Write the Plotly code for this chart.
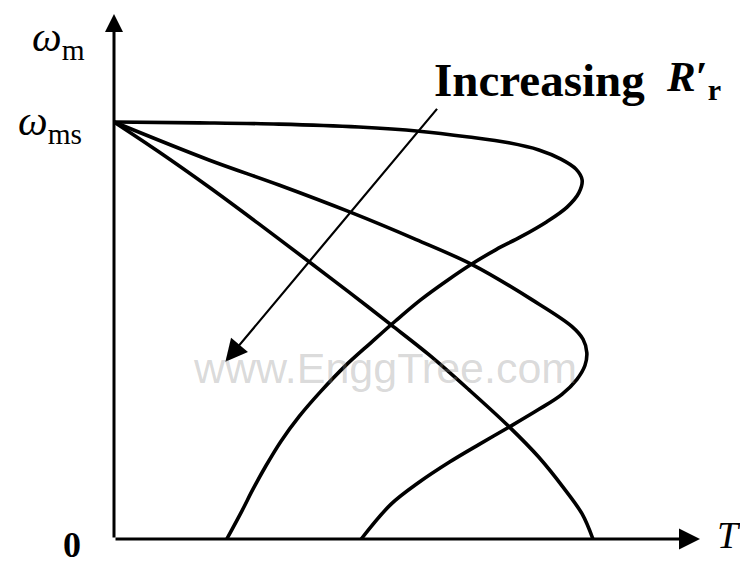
import plotly.graph_objects as go

# Torque (normalised to the breakdown torque) vs. rotor speed
# (normalised to synchronous speed) for three values of rotor resistance.
low_r_torque = [0.0, 0.181, 0.351, 0.521, 0.649, 0.755, 0.840, 0.904, 0.951, 0.983,
                0.996, 0.989, 0.964, 0.921, 0.866, 0.813, 0.762, 0.709, 0.653, 0.600,
                0.547, 0.491, 0.440, 0.394, 0.355, 0.323, 0.296, 0.272, 0.240]
low_r_speed = [1.0, 0.998, 0.995, 0.988, 0.978, 0.964, 0.950, 0.933, 0.911, 0.887,
               0.861, 0.830, 0.796, 0.761, 0.725, 0.694, 0.660, 0.620, 0.574, 0.524,
               0.471, 0.414, 0.354, 0.294, 0.234, 0.175, 0.120, 0.067, 0.0]

mid_r_torque = [0.0, 0.202, 0.351, 0.500, 0.643, 0.762, 0.889, 0.974, 0.998, 1.006,
                1.002, 0.985, 0.953, 0.904, 0.840, 0.777, 0.713, 0.649, 0.589, 0.526]
mid_r_speed = [1.0, 0.909, 0.849, 0.785, 0.718, 0.658, 0.574, 0.510, 0.479, 0.447,
               0.416, 0.383, 0.347, 0.311, 0.268, 0.227, 0.184, 0.136, 0.083, 0.0]

high_r_torque = [0.0, 0.096, 0.202, 0.309, 0.415, 0.500, 0.589, 0.670, 0.755, 0.840,
                 0.904, 0.957, 0.996, 1.019]
high_r_speed = [1.0, 0.928, 0.844, 0.755, 0.665, 0.592, 0.514, 0.442, 0.358, 0.270,
                0.196, 0.122, 0.060, 0.0]

W, H = 740, 566
ORIGIN_X, ORIGIN_Y = 114, 539      # pixel position of the axes origin
PX_PER_T, PX_PER_W = 470, 417      # pixels per normalised unit

x_range = [-ORIGIN_X / PX_PER_T, (W - ORIGIN_X) / PX_PER_T]
y_range = [-(H - ORIGIN_Y) / PX_PER_W, ORIGIN_Y / PX_PER_W]

SERIF = "Liberation Serif, Times New Roman, serif"

fig = go.Figure()
for t, w in [(low_r_torque, low_r_speed), (mid_r_torque, mid_r_speed),
             (high_r_torque, high_r_speed)]:
    fig.add_trace(go.Scatter(
        x=t, y=w, mode="lines",
        line=dict(color="black", width=3.6, shape="spline", smoothing=1.0),
        hoverinfo="skip", showlegend=False,
    ))

# Axes with arrowheads
t_axis_end = (700 - ORIGIN_X) / PX_PER_T
w_axis_end = (539 - 14) / PX_PER_W
fig.add_annotation(x=t_axis_end, y=0, ax=0, ay=0, xref="x", yref="y",
                   axref="x", ayref="y", showarrow=True, arrowhead=2,
                   arrowsize=1.4, arrowwidth=3, arrowcolor="black", text="")
fig.add_annotation(x=0, y=w_axis_end, ax=0, ay=0, xref="x", yref="y",
                   axref="x", ayref="y", showarrow=True, arrowhead=2,
                   arrowsize=1.2, arrowwidth=3, arrowcolor="black", text="")

# "Increasing R'r" arrow
fig.add_annotation(x=0.237, y=0.425, ax=0.690, ay=1.035, xref="x", yref="y",
                   axref="x", ayref="y", showarrow=True, arrowhead=2,
                   arrowsize=2.0, arrowwidth=2.2, arrowcolor="black", text="")


def label(px, py, text, size, anchor="center", **font):
    fig.add_annotation(x=px / W, y=1 - py / H, xref="paper", yref="paper",
                       text=text, showarrow=False, xanchor=anchor, yanchor="middle",
                       font=dict(family=SERIF, size=size, color="black", **font))


label(432, 80, "<b>Increasing</b>", 47, anchor="left")
label(664, 80, "<b><i>R</i>′<sub>r</sub></b>", 43, anchor="left")
label(58, 40, "<i>ω</i><sub>m</sub>", 42)
label(50, 124, "<i>ω</i><sub>ms</sub>", 42)
label(72, 545, "<b>0</b>", 36)
label(729, 535, "<i>T</i>", 38)

fig.add_annotation(x=385 / W, y=1 - 368 / H, xref="paper", yref="paper",
                   text="www.EnggTree.com", showarrow=False,
                   font=dict(family="Liberation Sans, Arial, sans-serif", size=43,
                             color="rgba(140,140,140,0.33)"))

fig.update_layout(
    width=W, height=H,
    margin=dict(l=0, r=0, t=0, b=0),
    paper_bgcolor="white", plot_bgcolor="white",
    xaxis=dict(range=x_range, visible=False, fixedrange=True),
    yaxis=dict(range=y_range, visible=False, fixedrange=True),
)

fig.write_html("out.html")
